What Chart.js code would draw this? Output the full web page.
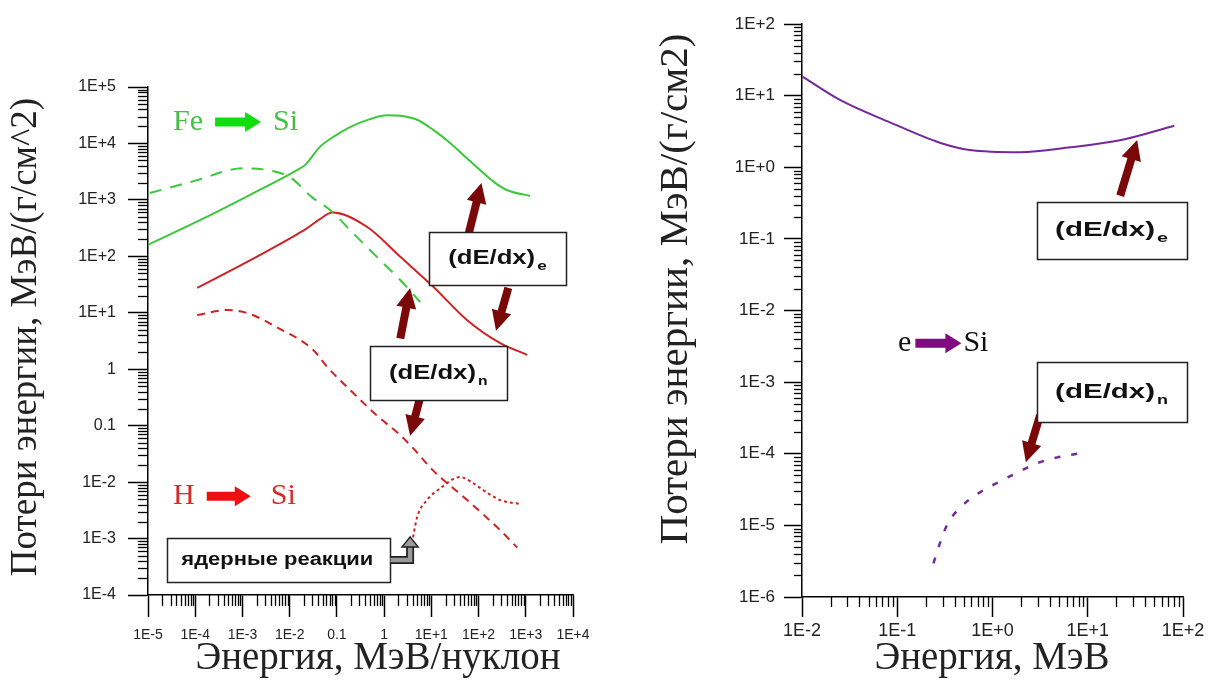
<!DOCTYPE html>
<html lang="ru">
<head>
    <meta charset="UTF-8">
    <title>Потери энергии в кремнии</title>
    <script src="https://cdn.jsdelivr.net/npm/chart.js"></script>
    <style>
        body {
            margin: 0;
            background: #fff;
            width: 1225px;
            height: 686px;
            position: relative;
            overflow: hidden;
        }

        canvas {
            position: absolute;
            top: 0;
            display: block;
        }

        #ions { left: 0; }
        #electrons { left: 612px; }
    </style>
</head>
<body>
    <canvas id="ions" width="612" height="686"></canvas>
    <canvas id="electrons" width="613" height="686"></canvas>

    <script>
        // --- данные ---
        // Fe -> Si, электронные потери
        const feElecEnergy = [1e-5, 1.26e-4, 1.45e-3, 0.0166, 0.0214, 0.0437, 0.089, 0.19, 0.5, 1.15, 2.2, 5.0, 11, 25, 56, 126, 224, 407, 1230];
        const feElecLoss = [160, 437, 1230, 3630, 4170, 8700, 13500, 19500, 27000, 31600, 30900, 26300, 17400, 10200, 5500, 3000, 2000, 1480, 1175];
        // Fe -> Si, ядерные потери
        const feNuclEnergy = [1.1e-5, 1.1e-4, 1.02e-3, 3.3e-3, 0.0102, 0.0295, 0.072, 0.22, 0.83, 2.2, 5.8];
        const feNuclLoss = [1320, 2240, 3630, 3390, 2510, 1120, 660, 257, 85, 38, 15.5];
        // H -> Si, электронные потери
        const hElecEnergy = [1.1e-4, 1e-3, 0.0102, 0.0214, 0.0437, 0.08, 0.44, 2.2, 11, 57.5, 288, 1070];
        const hElecLoss = [27.5, 72, 209, 300, 457, 600, 331, 98, 29, 7.4, 2.9, 1.8];
        // H -> Si, ядерные потери
        const hNuclEnergy = [1.1e-4, 4.7e-4, 1.3e-3, 5.4e-3, 0.0316, 0.062, 0.19, 0.71, 2.2, 4.1, 11, 57.5, 288, 660];
        const hNuclLoss = [9.1, 11.2, 9.8, 5.5, 2.2, 1.1, 0.43, 0.15, 0.068, 0.040, 0.016, 4.8e-3, 1.4e-3, 6.9e-4];
        // H -> Si, ядерные реакции
        const hReactEnergy = [4.1, 5.0, 8.1, 15.5, 41, 78, 126, 288, 760];
        const hReactLoss = [1.05e-3, 2.4e-3, 4.8e-3, 7.8e-3, 0.0123, 9.5e-3, 7.2e-3, 4.8e-3, 4.1e-3];
        // e -> Si
        const eElecEnergy = [0.01, 0.025, 0.085, 0.28, 0.575, 1.95, 6.6, 22.4, 81];
        const eElecLoss = [18.6, 8.7, 4.2, 2.2, 1.74, 1.62, 1.9, 2.4, 3.8];
        const eNuclEnergy = [0.24, 0.28, 0.34, 0.46, 0.71, 1.15, 1.8, 2.95, 4.8, 8.5];
        const eNuclLoss = [2.95e-6, 5.6e-6, 1.07e-5, 1.78e-5, 2.8e-5, 4.0e-5, 5.4e-5, 7.4e-5, 8.9e-5, 1.02e-4];

        // --- подписи осей ---
        const ionXTicks = [1e-5, 1e-4, 1e-3, 1e-2, 0.1, 1, 10, 100, 1000, 10000];
        const ionXLabels = ['1E-5', '1E-4', '1E-3', '1E-2', '0.1', '1', '1E+1', '1E+2', '1E+3', '1E+4'];
        const ionYTicks = [1e-4, 1e-3, 1e-2, 0.1, 1, 10, 100, 1000, 1e4, 1e5];
        const ionYLabels = ['1E-4', '1E-3', '1E-2', '0.1', '1', '1E+1', '1E+2', '1E+3', '1E+4', '1E+5'];
        const elXTicks = [0.01, 0.1, 1, 10, 100];
        const elXLabels = ['1E-2', '1E-1', '1E+0', '1E+1', '1E+2'];
        const elYTicks = [1e-6, 1e-5, 1e-4, 1e-3, 1e-2, 0.1, 1, 10, 100];
        const elYLabels = ['1E-6', '1E-5', '1E-4', '1E-3', '1E-2', '1E-1', '1E+0', '1E+1', '1E+2'];

        const SERIF = "'Liberation Serif', 'Times New Roman', serif";
        const SANS = "'Liberation Sans', Arial, sans-serif";
        const GREEN = '#3cc83c';
        const RED = '#cc2424';
        const PURPLE = '#74289a';
        const ARROW = '#7a0808';

        const pts = (xs, ys) => xs.map((x, i) => ({ x: x, y: ys[i] }));

        function logAxis(o) {
            return {
                type: 'logarithmic',
                position: o.position,
                min: o.ticks[0],
                max: o.ticks[o.ticks.length - 1],
                afterBuildTicks: s => { s.ticks = o.ticks.map(v => ({ value: v })); },
                afterFit: s => {
                    if (s.isHorizontal()) {
                        s.height = o.size; s.paddingLeft = 0; s.paddingRight = 0;
                    } else {
                        s.width = o.size; s.paddingTop = 0; s.paddingBottom = 0;
                    }
                },
                ticks: {
                    autoSkip: false, maxRotation: 0, padding: o.pad, color: '#222',
                    font: o.font, callback: (v, i) => o.labels[i]
                },
                grid: { drawOnChartArea: false, drawTicks: true, tickLength: o.major, tickColor: '#000', tickWidth: 1.5 },
                border: { display: true, color: '#000', width: 1.5 },
                title: { display: false }
            };
        }

        // мелкие деления 2..9 в каждой декаде
        const minorTicks = {
            id: 'minor',
            afterDraw(chart, args, opts) {
                const ctx = chart.ctx;
                ctx.save();
                ctx.strokeStyle = '#000';
                ctx.lineWidth = 1.3;
                [chart.scales.x, chart.scales.y].forEach(s => {
                    const lo = Math.round(Math.log10(s.min)), hi = Math.round(Math.log10(s.max));
                    const len = s.isHorizontal() ? opts.x : opts.y;
                    for (let d = lo; d < hi; d++) {
                        for (let m = 2; m <= 9; m++) {
                            const p = Math.round(s.getPixelForValue(m * Math.pow(10, d))) + 0.5;
                            ctx.beginPath();
                            if (s.isHorizontal()) { ctx.moveTo(p, s.top); ctx.lineTo(p, s.top + len); }
                            else { ctx.moveTo(s.right, p); ctx.lineTo(s.right - len, p); }
                            ctx.stroke();
                        }
                    }
                });
                ctx.restore();
            }
        };

        // заголовки осей (шрифт с засечками)
        const axisTitles = {
            id: 'titles',
            afterDraw(chart, args, opts) {
                const ctx = chart.ctx;
                ctx.save();
                ctx.fillStyle = '#222';
                ctx.textAlign = 'center';
                ctx.textBaseline = 'middle';
                opts.items.forEach(t => {
                    ctx.save();
                    ctx.translate(t.cx, t.cy);
                    if (t.vertical) ctx.rotate(-Math.PI / 2);
                    ctx.font = t.size + 'px ' + SERIF;
                    ctx.fillText(t.text, 0, 0);
                    ctx.restore();
                });
                ctx.restore();
            }
        };

        function blockArrow(ctx, x1, y1, x2, y2, color, shaft, head, headLen) {
            const L = Math.hypot(x2 - x1, y2 - y1);
            const ux = (x2 - x1) / L, uy = (y2 - y1) / L, nx = -uy, ny = ux;
            const bx = x2 - ux * headLen, by = y2 - uy * headLen;
            ctx.beginPath();
            ctx.moveTo(x1 + nx * shaft / 2, y1 + ny * shaft / 2);
            ctx.lineTo(bx + nx * shaft / 2, by + ny * shaft / 2);
            ctx.lineTo(bx + nx * head / 2, by + ny * head / 2);
            ctx.lineTo(x2, y2);
            ctx.lineTo(bx - nx * head / 2, by - ny * head / 2);
            ctx.lineTo(bx - nx * shaft / 2, by - ny * shaft / 2);
            ctx.lineTo(x1 - nx * shaft / 2, y1 - ny * shaft / 2);
            ctx.closePath();
            ctx.fillStyle = color;
            ctx.fill();
        }

        // текст, растянутый до нужной ширины
        function wideText(ctx, text, x, y, font, width) {
            ctx.font = font;
            const w = ctx.measureText(text).width;
            ctx.save();
            ctx.translate(x, y);
            ctx.scale(width / w, 1);
            ctx.textAlign = 'left';
            ctx.textBaseline = 'middle';
            ctx.fillText(text, 0, 0);
            ctx.restore();
        }

        // подписи, рамки и стрелки
        const notes = {
            id: 'notes',
            afterDatasetsDraw(chart, args, opts) {
                const ctx = chart.ctx;
                const px = v => chart.scales.x.getPixelForValue(v);
                const py = v => chart.scales.y.getPixelForValue(v);
                ctx.save();

                (opts.arrows || []).forEach(a => {
                    blockArrow(ctx, px(a.from[0]), py(a.from[1]), px(a.to[0]), py(a.to[1]), ARROW, 8, 20, 20);
                });

                (opts.boxes || []).forEach(b => {
                    const cx = px(b.x), cy = py(b.y);
                    const l = Math.round(cx - b.w / 2) + 0.5, t = Math.round(cy - b.h / 2) + 0.5;
                    ctx.fillStyle = '#fff';
                    ctx.fillRect(l, t, b.w, b.h);
                    ctx.strokeStyle = '#222';
                    ctx.lineWidth = 1.5;
                    ctx.strokeRect(l, t, b.w, b.h);
                    ctx.fillStyle = '#111';
                    const subW = b.sub ? b.textW * 0.11 : 0;
                    const x0 = cx - (b.textW + subW + 2) / 2;
                    wideText(ctx, b.text, x0, cy, b.font, b.textW);
                    if (b.sub) wideText(ctx, b.sub, x0 + b.textW + 2, cy + 8, 'bold 13px ' + SANS, subW);

                    if (b.hook) {
                        // серая изогнутая стрелка от рамки вверх
                        const sx = l + b.w, hx = px(b.hook.x), ty = py(b.hook.y);
                        ctx.lineJoin = 'miter';
                        ctx.beginPath();
                        ctx.moveTo(sx, cy);
                        ctx.lineTo(hx, cy);
                        ctx.lineTo(hx, ty + 9);
                        ctx.strokeStyle = '#222';
                        ctx.lineWidth = 8;
                        ctx.stroke();
                        ctx.strokeStyle = '#9a9a9a';
                        ctx.lineWidth = 4.5;
                        ctx.stroke();
                        ctx.beginPath();
                        ctx.moveTo(hx - 8, ty + 10);
                        ctx.lineTo(hx, ty);
                        ctx.lineTo(hx + 8, ty + 10);
                        ctx.closePath();
                        ctx.fillStyle = '#9a9a9a';
                        ctx.fill();
                        ctx.strokeStyle = '#222';
                        ctx.lineWidth = 1.5;
                        ctx.stroke();
                    }
                });

                (opts.labels || []).forEach(lb => {
                    let x = px(lb.x);
                    const y = py(lb.y);
                    ctx.font = '30px ' + SERIF;
                    ctx.textBaseline = 'middle';
                    ctx.textAlign = 'left';
                    ctx.fillStyle = lb.color;
                    ctx.fillText(lb.left, x, y);
                    x += ctx.measureText(lb.left).width + lb.gap;
                    blockArrow(ctx, x, y, x + lb.len, y, lb.arrowColor, 9, 20, 16);
                    x += lb.len + lb.gap2;
                    ctx.fillStyle = lb.color;
                    ctx.fillText(lb.right, x, y);
                });

                ctx.restore();
            }
        };

        const lineDefaults = { pointRadius: 0, borderWidth: 2, fill: false, cubicInterpolationMode: 'monotone' };

        new Chart(document.getElementById('ions'), {
            type: 'line',
            data: {
                datasets: [
                    { ...lineDefaults, data: pts(feElecEnergy, feElecLoss), borderColor: GREEN },
                    { ...lineDefaults, data: pts(feNuclEnergy, feNuclLoss), borderColor: GREEN, borderDash: [12, 9] },
                    { ...lineDefaults, data: pts(hElecEnergy, hElecLoss), borderColor: RED },
                    { ...lineDefaults, data: pts(hNuclEnergy, hNuclLoss), borderColor: RED, borderDash: [8, 6] },
                    { ...lineDefaults, data: pts(hReactEnergy, hReactLoss), borderColor: RED, borderDash: [3, 3] }
                ]
            },
            options: {
                responsive: false,
                animation: false,
                layout: { padding: { left: 0, top: 87, right: 39, bottom: 0 } },
                scales: {
                    x: logAxis({
                        position: 'bottom', ticks: ionXTicks, labels: ionXLabels, size: 91, major: 22, pad: 10,
                        font: { family: "'Liberation Sans Narrow', " + SANS, size: 14 }
                    }),
                    y: logAxis({
                        position: 'left', ticks: ionYTicks, labels: ionYLabels, size: 148, major: 20, pad: 12,
                        font: { family: SANS, size: 16 }
                    })
                },
                plugins: {
                    legend: { display: false },
                    tooltip: { enabled: false },
                    minor: { x: 11, y: 10 },
                    titles: {
                        items: [
                            { text: 'Энергия, МэВ/нуклон', cx: 378, cy: 659, size: 39 },
                            { text: 'Потери энергии, МэВ/(г/см^2)', cx: 26, cy: 337, size: 37, vertical: true }
                        ]
                    },
                    notes: {
                        arrows: [
                            { from: [60, 229], to: [115, 2000] },
                            { from: [427, 27.5], to: [234, 4.8] },
                            { from: [2.2, 3.5], to: [3.55, 27.5] },
                            { from: [5.75, 0.31], to: [3.55, 0.066] }
                        ],
                        boxes: [
                            { x: 251, y: 91, w: 137, h: 53, text: '(dE/dx)', sub: 'e', font: 'bold 20px ' + SANS, textW: 87 },
                            { x: 14, y: 0.85, w: 137, h: 54, text: '(dE/dx)', sub: 'n', font: 'bold 20px ' + SANS, textW: 87 },
                            { x: 5.75e-3, y: 4.17e-4, w: 223, h: 44, text: 'ядерные реакции', font: 'bold 18px ' + SANS, textW: 192,
                              hook: { x: 3.55, y: 1.07e-3 } }
                        ],
                        labels: [
                            { x: 3.4e-5, y: 2.4e4, left: 'Fe', right: 'Si', color: '#45c045', arrowColor: '#10dd10', gap: 12, len: 46, gap2: 12 },
                            { x: 3.4e-5, y: 5.6e-3, left: 'H', right: 'Si', color: '#dd2828', arrowColor: '#ee1010', gap: 12, len: 44, gap2: 20 }
                        ]
                    }
                }
            },
            plugins: [minorTicks, notes, axisTitles]
        });

        new Chart(document.getElementById('electrons'), {
            type: 'line',
            data: {
                datasets: [
                    { ...lineDefaults, data: pts(eElecEnergy, eElecLoss), borderColor: PURPLE },
                    { ...lineDefaults, data: pts(eNuclEnergy, eNuclLoss), borderColor: PURPLE, borderWidth: 2.5, borderDash: [6, 11] }
                ]
            },
            options: {
                responsive: false,
                animation: false,
                layout: { padding: { left: 0, top: 24, right: 42, bottom: 0 } },
                scales: {
                    x: logAxis({
                        position: 'bottom', ticks: elXTicks, labels: elXLabels, size: 89, major: 20, pad: 3,
                        font: { family: SANS, size: 18 }
                    }),
                    y: logAxis({
                        position: 'left', ticks: elYTicks, labels: elYLabels, size: 190, major: 18, pad: 9,
                        font: { family: SANS, size: 17 }
                    })
                },
                plugins: {
                    legend: { display: false },
                    tooltip: { enabled: false },
                    minor: { x: 10, y: 8 },
                    titles: {
                        items: [
                            { text: 'Энергия, МэВ', cx: 380, cy: 659, size: 39 },
                            { text: 'Потери энергии, МэВ/(г/см2)', cx: 64, cy: 289, size: 41, vertical: true }
                        ]
                    },
                    notes: {
                        arrows: [
                            { from: [21.9, 0.40], to: [33, 2.4] },
                            { from: [3.16, 3.47e-4], to: [2.24, 7.6e-5] }
                        ],
                        boxes: [
                            { x: 17.8, y: 0.132, w: 150, h: 57, text: '(dE/dx)', sub: 'e', font: 'bold 21px ' + SANS, textW: 100 },
                            { x: 17.8, y: 7.2e-4, w: 150, h: 60, text: '(dE/dx)', sub: 'n', font: 'bold 21px ' + SANS, textW: 100 }
                        ],
                        labels: [
                            { x: 0.102, y: 3.5e-3, left: 'e', right: 'Si', color: '#111', arrowColor: '#800a80', gap: 4, len: 46, gap2: 2 }
                        ]
                    }
                }
            },
            plugins: [minorTicks, notes, axisTitles]
        });
    </script>
</body>
</html>
